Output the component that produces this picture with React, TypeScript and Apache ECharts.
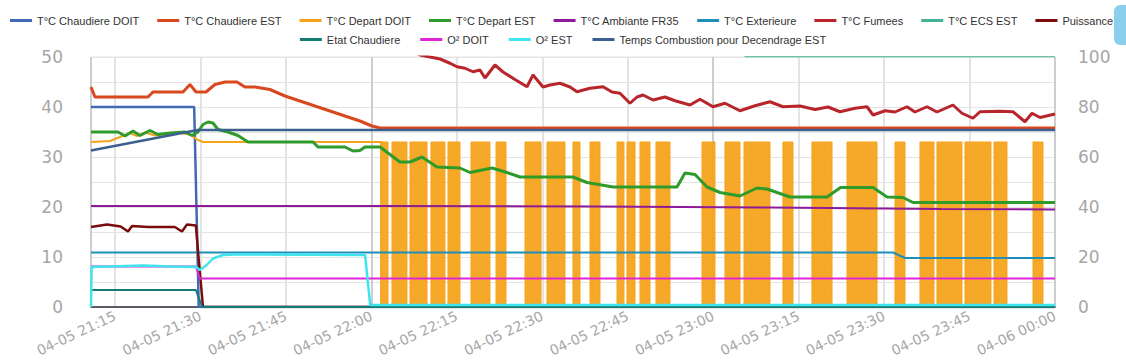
import React, { useEffect, useRef } from "react";
import * as echarts from "echarts";

// ---- names & colors ----
const seriesNames = [
  "T°C Chaudiere DOIT",
  "T°C Chaudiere EST",
  "T°C Depart DOIT",
  "T°C Depart EST",
  "T°C Ambiante FR35",
  "T°C Exterieure",
  "T°C Fumees",
  "T°C ECS EST",
  "Puissance",
  "Etat Chaudiere",
  "O² DOIT",
  "O² EST",
  "Temps Combustion pour Decendrage EST",
];
const seriesColors = [
  "#4169b4", "#d9481f", "#f6a31c", "#2f9b2a", "#8e1a99", "#1f8fb8", "#b8262c",
  "#46b295", "#7a0c0c", "#127c75", "#e124d8", "#3fe4ef", "#3b5f8f",
];

// ---- time: minutes after 2024-04-05 21:00 ----
const axisStartMin = 10.79;
const axisEndMin = 180;
const leftTicks = { min: 0, max: 50, step: 5, labelEvery: 10 };
const rightTicks = { min: 0, max: 100, step: 10, labelEvery: 20 };

// T°C Chaudiere DOIT
const chDoitMin = [10.79, 28.9, 29.7, 180];
const chDoitVal = [40, 40, 0, 0];
// T°C Chaudiere EST
const chEstMin = [10.79, 11.49, 20.79, 21.67, 26.94, 28.16, 29.22, 30.97, 32.55, 34.31, 36.41, 37.82, 39.57, 42.2, 44.84, 47.47, 50.1, 52.74, 55.37, 58.0, 60.11, 61.52, 180];
const chEstVal = [44, 42, 42, 43, 43, 44.5, 43, 43, 44.5, 45, 45, 44, 44, 43.5, 42.2, 41.2, 40.2, 39.2, 38.2, 37.2, 36.2, 35.8, 35.8];
// T°C Depart DOIT (steady part)
const depDoitMin = [10.79, 14.12, 15.88, 17.63, 18.86, 20.27, 22.02, 23.78, 26.41, 28.16, 29.39, 30.45, 61.87];
const depDoitVal = [33, 33.2, 34, 34.8, 34.2, 34.9, 34.3, 34.5, 34.8, 34.5, 33.5, 33, 33];
// T°C Depart DOIT (on/off part): periods at the high level, otherwise 0
const depDoitHigh = 33;
const depDoitOnStart = [61.52, 63.62, 66.78, 70.47, 73.45, 77.49, 81.88, 86.97, 90.83, 95.39, 98.38, 103.12, 104.87, 107.15, 109.96, 118.04, 122.07, 125.41, 132.25, 137.34, 143.49, 151.91, 156.3, 159.28, 164.2, 169.29, 176.14];
const depDoitOnEnd = [62.92, 66.25, 69.77, 72.92, 75.56, 80.82, 83.63, 89.78, 93.99, 96.62, 100.13, 104.34, 106.28, 108.91, 112.42, 120.32, 124.71, 129.97, 134.01, 140.86, 148.76, 153.67, 158.76, 163.67, 168.76, 171.57, 177.89];
// T°C Depart EST
const depEstMin = [10.79, 15.53, 16.76, 18.16, 19.39, 21.14, 22.55, 24.65, 27.29, 28.52, 29.57, 30.45, 31.32, 32.2, 33.08, 34.84, 36.59, 38.35, 49.76, 50.63, 55.37, 56.78, 58.0, 58.88, 61.52, 65.03, 66.78, 68.89, 71.52, 75.56, 77.32, 81.18, 83.81, 86.09, 95.39, 97.85, 102.42, 113.65, 115.05, 116.81, 118.92, 121.2, 124.71, 127.69, 129.45, 131.2, 133.49, 139.98, 142.37, 148.06, 150.52, 153.32, 155.08, 180];
const depEstVal = [35, 35, 34.2, 35.2, 34.3, 35.3, 34.5, 34.8, 35, 34.3, 35, 36.5, 37, 36.8, 35.5, 35, 34.3, 33, 33, 32, 32, 31.2, 31.3, 32, 32, 29, 29, 30, 28, 27.8, 26.9, 27.8, 26.9, 26, 26, 24.9, 24, 24, 26.8, 26.5, 24, 22.9, 22.2, 23.8, 23.6, 22.9, 22, 22, 23.9, 23.9, 22, 21.9, 20.9, 20.9];
// T°C Ambiante FR35
const ambMin = [10.79, 60, 100, 130, 160, 180];
const ambVal = [20.2, 20.2, 20.1, 19.9, 19.6, 19.5];
// T°C Exterieure
const extMin = [10.79, 151.56, 153.67, 180];
const extVal = [10.9, 10.9, 9.8, 9.8];
// T°C Fumees (right axis)
const fumMin = [65.9, 68.54, 72.05, 73.8, 75.03, 76.44, 77.84, 79.07, 79.95, 81.7, 83.11, 85.21, 87.32, 88.38, 90.13, 91.36, 93.11, 94.87, 96.1, 98.38, 100.66, 102.24, 103.64, 105.4, 106.63, 107.68, 109.44, 111.54, 113.3, 115.93, 117.69, 119.97, 122.07, 124.71, 127.34, 129.97, 132.25, 135.24, 137.87, 140.16, 142.26, 144.9, 147.0, 148.06, 150.17, 151.91, 154.02, 155.42, 157.53, 159.28, 162.09, 163.67, 165.6, 166.83, 170.34, 172.63, 174.73, 175.96, 177.37, 180];
const fumVal = [104, 100.8, 99.2, 97.5, 96.1, 95.5, 94.1, 94.8, 91.6, 96.8, 94, 91, 88.1, 92.8, 88, 88.8, 89.5, 88, 86.1, 87.5, 88.1, 86, 85.5, 81.5, 84, 84.8, 82.8, 84, 82.5, 80.8, 83.1, 80.1, 81.5, 78.5, 80.5, 82.1, 80.1, 80.4, 79, 80, 78.1, 79.5, 80.1, 76.8, 78.5, 78, 80.1, 78, 80.1, 78, 80.8, 77.5, 75.5, 78.1, 78.3, 78.1, 74.1, 77.5, 75.8, 77.2];
// T°C ECS EST
const ecsMin = [10.79, 125.3, 125.6, 180];
const ecsVal = [52, 52, 50.1, 50.1];
// Puissance
const puisMin = [10.79, 13.6, 16.0, 17.28, 18.0, 20.8, 25.5, 26.76, 27.64, 29.2, 29.74, 30.45, 180];
const puisVal = [16, 16.5, 16.1, 15.1, 16.2, 16, 16, 15.1, 16.5, 16.3, 9, 0, 0];
// Etat Chaudiere
const etatMin = [10.79, 29.2, 30.3, 180];
const etatVal = [3.4, 3.4, 0, 0];
// O² DOIT
const o2DoitMin = [10.79, 29.2, 29.9, 180];
const o2DoitVal = [8.1, 8.1, 5.7, 5.7];
// O² EST
const o2EstMin = [10.79, 10.9, 14, 20, 25, 29.2, 29.9, 31.0, 32.2, 33.96, 36, 58.9, 59.8, 180];
const o2EstVal = [0, 8, 8.1, 8.3, 8.1, 8.0, 7.4, 8.3, 9.7, 10.4, 10.5, 10.4, 0.4, 0.4];
// Temps Combustion pour Decendrage EST
const tempsMin = [10.79, 29.5, 180];
const tempsVal = [31.3, 35.4, 35.4];

const BASE = new Date(2024, 3, 5, 21, 0, 0).getTime();
const toTime = (m: number) => BASE + m * 60000;
const pts = (mins: number[], vals: number[]) => mins.map((m, i) => [toTime(m), vals[i]]);

const pad = (n: number) => String(n).padStart(2, "0");
const fmtTime = (v: number) => {
  const d = new Date(v);
  return `${pad(d.getMonth() + 1)}-${pad(d.getDate())} ${pad(d.getHours())}:${pad(d.getMinutes())}`;
};

function buildOption() {
  const blocks: any[] = [];
  depDoitOnStart.forEach((s, i) => {
    blocks.push([toTime(s), depDoitHigh]);
    blocks.push([toTime(depDoitOnEnd[i]), 0]);
  });
  blocks.push([toTime(axisEndMin), 0]);

  const line = (idx: number, data: any[], width: number, extra: any = {}) => ({
    type: "line",
    name: seriesNames[idx],
    data,
    symbol: "none",
    showSymbol: false,
    color: seriesColors[idx],
    lineStyle: { color: seriesColors[idx], width },
    itemStyle: { color: seriesColors[idx] },
    ...extra,
  });

  const legendText = { fontSize: 11, color: "#333", fontFamily: "Liberation Sans, Arial, sans-serif" };
  const axisFont = { color: "#a6a6a6", fontFamily: "DejaVu Sans, sans-serif" };

  return {
    animation: false,
    backgroundColor: "#ffffff",
    legend: [
      {
        data: seriesNames.slice(0, 9),
        left: 5,
        top: 10,
        width: 1400,
        icon: "rect",
        itemWidth: 22,
        itemHeight: 3,
        itemGap: 18,
        textStyle: legendText,
      },
      {
        data: seriesNames.slice(9),
        left: "center",
        top: 29,
        width: 1400,
        icon: "rect",
        itemWidth: 22,
        itemHeight: 3,
        itemGap: 20,
        textStyle: legendText,
      },
    ],
    graphic: [
      {
        type: "rect",
        left: 1114,
        top: 5,
        shape: { width: 24, height: 40, r: 6 },
        style: { fill: "#8ccfec" },
        z: 100,
      },
    ],
    grid: {
      left: 91,
      right: 71,
      top: 57,
      bottom: 57,
      show: true,
      borderColor: "#e2e2e2",
      borderWidth: 1,
    },
    xAxis: {
      type: "time",
      min: toTime(axisStartMin),
      max: toTime(axisEndMin),
      minInterval: 16 * 60000,
      maxInterval: 19 * 60000,
      splitNumber: 10,
      axisLine: { show: true, lineStyle: { color: "#2b2b3a", width: 1.5 } },
      axisTick: { show: false },
      splitLine: {
        show: true,
        lineStyle: { color: ["#cdcdcd", "#e3e3e3", "#e3e3e3", "#e3e3e3"], width: 2 },
      },
      axisLabel: {
        ...axisFont,
        fontSize: 14,
        rotate: 25,
        margin: 8,
        hideOverlap: false,
        showMaxLabel: true,
        formatter: (v: number) => fmtTime(v),
      },
    },
    yAxis: [
      {
        type: "value",
        min: leftTicks.min,
        max: leftTicks.max,
        interval: leftTicks.step,
        axisLine: { show: false },
        axisTick: { show: false },
        splitLine: { show: true, lineStyle: { color: "#e4e4e4", width: 1 } },
        axisLabel: {
          ...axisFont,
          fontSize: 17,
          margin: 28,
          formatter: (v: number) => (v % leftTicks.labelEvery === 0 ? String(v) : ""),
        },
      },
      {
        type: "value",
        position: "right",
        min: rightTicks.min,
        max: rightTicks.max,
        interval: rightTicks.step,
        axisLine: { show: false },
        axisTick: { show: false },
        splitLine: { show: false },
        axisLabel: {
          ...axisFont,
          fontSize: 17,
          margin: 23,
          formatter: (v: number) => (v % rightTicks.labelEvery === 0 ? String(v) : ""),
        },
      },
    ],
    series: [
      {
        type: "line",
        name: seriesNames[2],
        data: blocks,
        step: "end",
        symbol: "none",
        showSymbol: false,
        z: 1,
        color: seriesColors[2],
        lineStyle: { color: seriesColors[2], width: 1 },
        itemStyle: { color: seriesColors[2] },
        areaStyle: { color: seriesColors[2], opacity: 0.95 },
      },
      line(0, pts(chDoitMin, chDoitVal), 2.5),
      line(1, pts(chEstMin, chEstVal), 3),
      line(2, pts(depDoitMin, depDoitVal), 2),
      line(3, pts(depEstMin, depEstVal), 3),
      line(4, pts(ambMin, ambVal), 2),
      line(5, pts(extMin, extVal), 2),
      line(6, pts(fumMin, fumVal), 3, { yAxisIndex: 1 }),
      line(7, pts(ecsMin, ecsVal), 1.5),
      line(8, pts(puisMin, puisVal), 2.5),
      line(9, pts(etatMin, etatVal), 2),
      line(10, pts(o2DoitMin, o2DoitVal), 2),
      line(11, pts(o2EstMin, o2EstVal), 2.5),
      line(12, pts(tempsMin, tempsVal), 2.5),
    ],
  };
}

export default function App() {
  const ref = useRef<HTMLDivElement>(null);
  useEffect(() => {
    document.body.style.margin = "0";
    if (!ref.current) return;
    const chart = echarts.init(ref.current, undefined, { renderer: "svg" });
    chart.setOption(buildOption() as any);
    return () => chart.dispose();
  }, []);
  return (
    <div
      ref={ref}
      style={{ position: "absolute", left: 0, top: 0, width: 1126, height: 364 }}
    />
  );
}
